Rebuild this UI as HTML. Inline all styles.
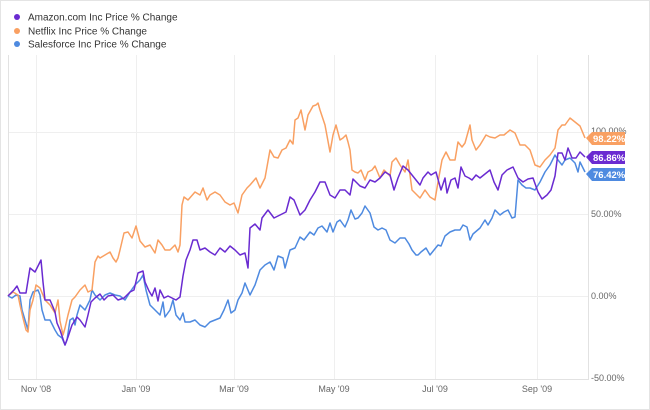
<!DOCTYPE html>
<html><head><meta charset="utf-8"><style>
body{margin:0;background:#fff}
svg{display:block;font-family:"Liberation Sans",sans-serif}
</style></head><body>
<svg width="650" height="410" viewBox="0 0 650 410">
<rect x="0.5" y="0.5" width="649" height="409" fill="#fff" stroke="#e4e4e4"/>
<g font-size="10" fill="#333">
<circle cx="17" cy="17" r="3" fill="#6a2bd1"/><text x="28" y="20.5">Amazon.com Inc Price % Change</text>
<circle cx="17" cy="31" r="3" fill="#f9a062"/><text x="28" y="34.5">Netflix Inc Price % Change</text>
<circle cx="17" cy="44" r="3" fill="#4e8ae0"/><text x="28" y="47.5">Salesforce Inc Price % Change</text>
</g>
<g stroke="#efefef" stroke-width="1">
<line x1="8" y1="132.5" x2="588" y2="132.5"/><line x1="8" y1="214.5" x2="588" y2="214.5"/><line x1="8" y1="296.5" x2="588" y2="296.5"/>
<line x1="36.5" y1="55" x2="36.5" y2="379"/><line x1="136.5" y1="55" x2="136.5" y2="379"/><line x1="234.5" y1="55" x2="234.5" y2="379"/><line x1="334.5" y1="55" x2="334.5" y2="379"/><line x1="435.5" y1="55" x2="435.5" y2="379"/><line x1="537.5" y1="55" x2="537.5" y2="379"/>
</g>
<polyline fill="none" stroke="#e2e2e2" points="8.5,55 8.5,379.5 588.5,379.5 588.5,55"/>
<g fill="none" stroke-width="1.5" stroke-linejoin="round">
<polyline stroke="#4e8ae0" points="8,296 12,298 16,295 20,296 22,310 25,320 28,330 30,300 33,292 38,290 40,295 42,310 45,320 50,320 55,330 58,335 62,338 65,345 67,340 70,320 73,318 75,325 77,315 80,305 85,310 90,300 92,290 95,295 100,300 105,295 110,293 115,295 120,296 125,300 130,292 135,285 140,280 143,275 146,290 150,305 155,310 160,315 163,302 165,317 170,310 173,300 176,315 180,320 183,313 185,322 190,322 195,320 200,325 205,327 210,322 215,320 220,318 224,310 228,300 231,313 235,310 238,300 242,293 245,283 250,295 255,285 260,270 265,265 270,262 274,270 278,256 283,258 285,268 290,250 295,248 300,237 304,240 310,232 314,235 318,228 322,226 327,232 330,223 333,232 337,222 340,220 345,227 348,220 351,210 355,219 358,218 362,213 365,206 370,213 374,227 378,230 382,228 386,230 390,240 395,243 400,238 405,238 409,244 412,250 416,255 418,255 421,252 426,248 430,255 434,250 438,245 441,246 445,236 450,232 455,230 460,230 463,225 467,227 470,240 473,234 480,228 485,220 488,225 492,218 495,210 500,215 504,212 508,210 512,218 515,217 518,180 522,185 526,188 530,188 535,190 540,182 545,172 550,165 555,155 558,160 562,165 565,160 570,158 575,163 578,172 580,162 585,172"/>
<polyline stroke="#f9a062" points="8,296 13,292 18,295 20,305 23,318 26,330 28,332 30,310 33,300 36,285 40,288 45,300 50,305 55,313 58,300 60,321 63,335 65,328 68,315 72,300 75,297 80,290 85,285 88,292 92,290 95,262 98,256 100,258 105,255 110,252 113,258 116,262 118,258 120,250 124,233 128,232 132,238 136,226 140,241 145,247 150,245 155,253 158,240 162,245 165,250 170,250 175,245 178,252 180,245 182,205 184,197 188,200 195,192 200,195 203,188 207,200 210,195 215,192 220,195 225,202 230,205 234,203 238,213 242,195 247,188 250,185 256,178 260,188 265,178 270,150 274,157 278,158 282,150 286,148 290,140 293,144 295,120 298,118 301,110 305,130 308,115 313,106 316,105 318,103 320,110 325,125 330,152 333,135 336,125 340,140 343,138 346,135 348,142 350,150 352,170 355,172 358,173 361,170 365,180 368,172 372,170 375,166 380,178 384,170 390,176 392,162 396,158 400,165 405,172 408,160 412,190 420,198 425,190 430,197 435,200 438,182 442,160 446,152 450,160 455,160 458,142 462,147 465,143 470,125 472,140 476,150 480,145 486,135 490,137 495,138 500,135 504,135 510,130 515,133 520,145 525,145 530,150 535,165 540,167 545,160 550,155 555,148 558,130 562,125 565,125 570,118 575,122 580,126 585,138"/>
<polyline stroke="#6a2bd1" points="8,296 14,290 17,286 20,293 26,293 30,268 35,272 38,266 41,260 43,282 45,300 50,300 53,307 55,312 57,323 60,330 65,345 68,337 72,325 77,317 80,320 85,327 88,315 91,302 95,298 100,294 104,300 108,296 113,295 118,300 124,298 130,292 134,290 138,273 143,271 145,282 149,291 152,296 155,288 158,301 160,290 164,298 168,296 172,298 176,300 180,297 183,276 186,260 190,250 193,240 197,240 200,250 205,248 210,252 215,255 220,248 225,252 230,246 235,250 240,255 245,253 248,268 250,228 255,224 260,230 262,218 268,210 274,218 280,215 286,212 290,197 294,200 300,215 305,210 310,200 315,192 320,182 325,182 330,195 335,198 340,190 345,190 350,195 353,179 356,182 360,186 365,188 370,180 375,182 380,178 385,172 390,175 394,190 398,178 403,166 408,170 412,175 416,180 420,185 423,178 428,172 431,175 436,172 441,190 445,178 447,193 451,180 455,178 458,188 461,167 465,176 469,178 472,180 476,175 480,178 485,174 490,170 494,182 498,190 502,175 507,170 513,167 518,178 523,182 528,179 533,178 538,192 542,199 547,195 551,190 555,176 558,153 562,153 565,160 568,148 572,158 576,158 580,152 585,157"/>
</g>
<g font-size="9" fill="#666">
<text x="591" y="134">100.00%</text><text x="591" y="217">50.00%</text><text x="591" y="299">0.00%</text><text x="591" y="381">-50.00%</text>
<text x="36" y="392" text-anchor="middle">Nov '08</text><text x="136" y="392" text-anchor="middle">Jan '09</text><text x="234" y="392" text-anchor="middle">Mar '09</text><text x="334" y="392" text-anchor="middle">May '09</text><text x="435" y="392" text-anchor="middle">Jul '09</text><text x="537" y="392" text-anchor="middle">Sep '09</text>
</g>
<g font-size="9.5" font-weight="bold" fill="#fff">
<path d="M586,138 L592,132 L625,132 L625,145 L592,145 Z" fill="#f9a062"/><text x="593" y="142">98.22%</text>
<path d="M586,157 L592,151 L625,151 L625,164 L592,164 Z" fill="#6a2bd1"/><text x="593" y="161">86.86%</text>
<path d="M586,174 L592,168 L625,168 L625,181 L592,181 Z" fill="#4e8ae0"/><text x="593" y="178">76.42%</text>
</g>
</svg>
</body></html>
